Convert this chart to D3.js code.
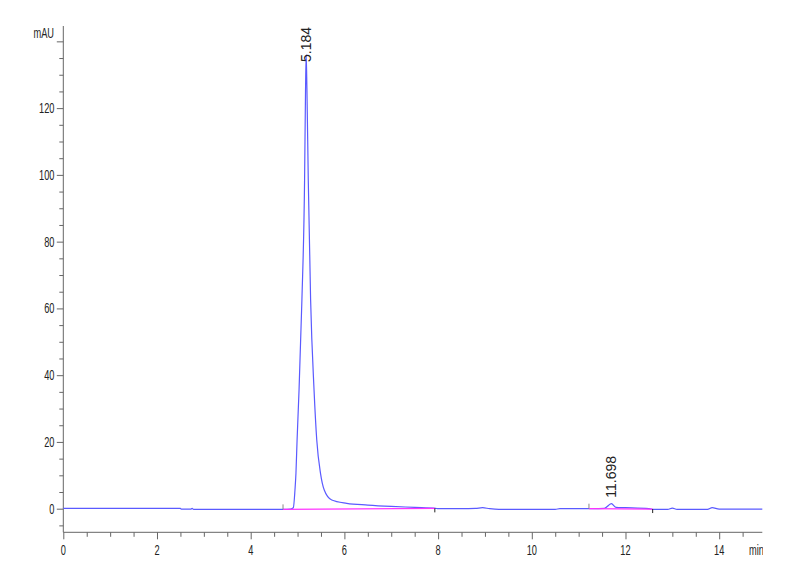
<!DOCTYPE html>
<html>
<head>
<meta charset="utf-8">
<script src="https://cdn.jsdelivr.net/npm/d3@7"></script>
<style>
  html, body { margin: 0; padding: 0; background: #fff; }
  svg { display: block; font-family: "Liberation Sans", Arial, sans-serif; }
</style>
</head>
<body>
<div id="chart"></div>
<script>
// signal trace (time in min, absorbance in mAU)
const times = [0, 2.5, 2.52, 2.72, 2.75, 2.78, 4.0, 4.7, 4.85, 4.91, 4.945, 4.966, 4.99, 5.032, 5.093, 5.15, 5.17, 5.184,
  5.2, 5.229, 5.279, 5.352, 5.41, 5.49, 5.57, 5.73, 6.05, 6.5, 7.0, 7.5, 7.95, 8.0, 8.5, 8.8, 8.95, 9.1, 9.3,
  10.5, 10.6, 11.3, 11.55, 11.698, 11.8, 12.0, 12.5, 12.6, 12.9, 13.0, 13.1, 13.75, 13.85, 14.0, 14.92];
const signal = [0.1, 0.1, -0.15, -0.15, 0.1, -0.2, -0.2, -0.2, -0.1, 0.3, 5.6, 10.6, 20.6, 35.6, 62.5, 98.4, 125, 136,
  126, 98.4, 62.5, 35.6, 20.6, 10.6, 5.6, 2.6, 1.6, 1.1, 0.7, 0.4, 0.1, 0.0, 0.0, 0.1, 0.3, 0.0, -0.2,
  -0.2, 0.0, 0.0, 0.1, 1.5, 0.4, 0.3, 0.0, -0.2, -0.2, 0.2, -0.2, -0.2, 0.3, -0.1, -0.1];

// integration baselines: [start time, start value, end time, end value]
const baselines = [[4.69, -0.2, 7.93, 0.1], [11.22, 0.0, 12.58, -0.1]];

// peak labels
const peakTimes = [5.184, 11.698];
const peakHeights = [136, 1.5];
const peakLabels = ["5.184", "11.698"];

const yMajor = [0, 20, 40, 60, 80, 100, 120];
const yMinor = d3.range(-5, 141, 5);
const xMajor = [0, 2, 4, 6, 8, 10, 12, 14];
const xMinor = d3.range(0, 14.9, 0.5);

const W = 800, H = 587;
const x = d3.scaleLinear().domain([0, 14.92]).range([63.3, 762.3]);
const y = d3.scaleLinear().domain([-7.07, 144.6]).range([532.3, 26]);

const svg = d3.select("#chart").append("svg")
  .attr("width", W)
  .attr("height", H);

svg.append("defs").append("clipPath").attr("id", "clip")
  .append("rect").attr("x", 0).attr("y", 0).attr("width", 763).attr("height", H);

const axisColor = "#666";

// y axis
const yAxisG = svg.append("g").attr("transform", `translate(${x(0)},0)`);
yAxisG.call(d3.axisLeft(y).tickValues(yMinor).tickSize(4).tickFormat(""));
yAxisG.call(g => g.selectAll(".tick").filter(d => d % 20 === 0).select("line").attr("x2", -6.5));
yAxisG.selectAll("path, line").attr("stroke", axisColor);
yAxisG.select(".domain").attr("d", `M0,${y(144.6)}V${y(-7.07)}`);

// x axis
const xAxisG = svg.append("g").attr("transform", `translate(0,${y(-7.07)})`);
xAxisG.call(d3.axisBottom(x).tickValues(xMinor).tickSize(4.5).tickFormat(""));
xAxisG.call(g => g.selectAll(".tick").filter(d => d % 2 === 0).select("line").attr("y2", 7));
xAxisG.selectAll("path, line").attr("stroke", axisColor);
xAxisG.select(".domain").attr("d", `M${x(0)},0H${x(14.92)}`);

// condensed tick labels
const sx = 0.66;
svg.append("g").selectAll("text")
  .data(yMajor)
  .join("text")
  .attr("transform", d => `translate(54.5,${y(d) + 5}) scale(${sx},1)`)
  .attr("text-anchor", "end")
  .attr("font-size", 14)
  .attr("fill", "#222")
  .text(d => d);

svg.append("text")
  .attr("transform", `translate(54,${y(140) - 3}) scale(${sx},1)`)
  .attr("text-anchor", "end")
  .attr("font-size", 14)
  .attr("fill", "#222")
  .text("mAU");

svg.append("g").selectAll("text")
  .data(xMajor)
  .join("text")
  .attr("transform", d => `translate(${x(d)},555) scale(${sx},1)`)
  .attr("text-anchor", "middle")
  .attr("font-size", 14)
  .attr("fill", "#222")
  .text(d => d);

svg.append("g").attr("clip-path", "url(#clip)")
  .append("text")
  .attr("transform", `translate(749,555) scale(${sx},1)`)
  .attr("font-size", 14)
  .attr("fill", "#222")
  .text("min");

// trace
const trace = times.map((t, i) => [t, signal[i]]);
svg.append("path")
  .datum(trace)
  .attr("fill", "none")
  .attr("stroke", "#5a5aff")
  .attr("stroke-width", 1.2)
  .attr("d", d3.line().x(d => x(d[0])).y(d => y(d[1])).curve(d3.curveMonotoneX));

// integration baselines and start/end marks
svg.append("g").selectAll("line")
  .data(baselines)
  .join("line")
  .attr("x1", d => x(d[0])).attr("y1", d => y(d[1]))
  .attr("x2", d => x(d[2])).attr("y2", d => y(d[3]))
  .attr("stroke", "#ff33ff")
  .attr("stroke-width", 1.2);

svg.append("g").selectAll("line")
  .data(baselines)
  .join("line")
  .attr("x1", d => x(d[0])).attr("x2", d => x(d[0]))
  .attr("y1", d => y(d[1])).attr("y2", d => y(d[1]) - 5)
  .attr("stroke", "#888");

svg.append("g").selectAll("line")
  .data(baselines)
  .join("line")
  .attr("x1", d => x(d[2])).attr("x2", d => x(d[2]))
  .attr("y1", d => y(d[3])).attr("y2", d => y(d[3]) + 4)
  .attr("stroke", "#222");

// peak labels (rotated)
svg.append("g").selectAll("text")
  .data(peakLabels)
  .join("text")
  .attr("transform", (d, i) => `translate(${x(peakTimes[i]) + 5},${i === 0 ? 62 : y(peakHeights[i]) - 6}) rotate(-90)`)
  .attr("font-size", 14)
  .attr("fill", "#222")
  .text(d => d);
</script>
</body>
</html>
